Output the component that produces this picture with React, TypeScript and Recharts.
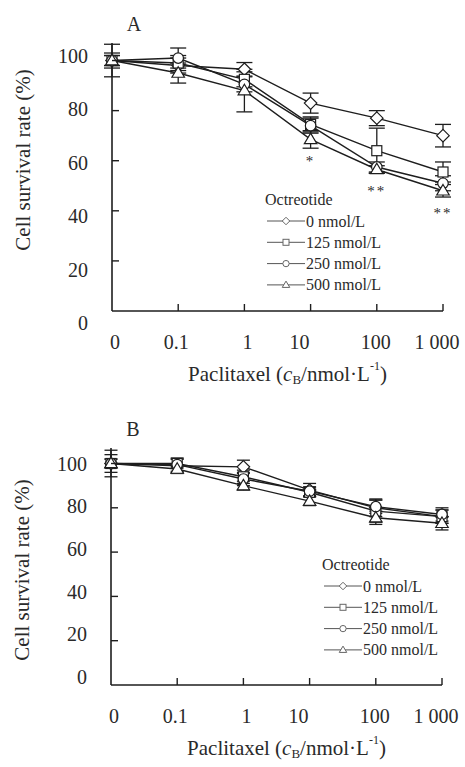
import React from 'react';
import { LineChart, Line, XAxis, YAxis, ErrorBar, Legend, LabelList } from 'recharts';

// ---------- data ----------
const doseLabels = ['0', '0.1', '1', '10', '100', '1 000'];
const yTicks = [0, 20, 40, 60, 80, 100];
const seriesNames = ['0 nmol/L', '125 nmol/L', '250 nmol/L', '500 nmol/L'];
const legendTitle = 'Octreotide';

// Panel A
const aOct0 = [100, 98, 96.5, 83, 77, 70];
const aOct0Err = [6.5, 3, 2.7, 4, 3, 4.5];
const aOct125 = [100, 99, 92.5, 74.5, 64, 55.5];
const aOct125Err = [2, 3, 3, 3, 9, 4];
const aOct250 = [100, 101, 90.5, 74, 57.5, 51];
const aOct250Err = [2, 4, 3, 3, 2, 3];
const aOct500 = [100, 95, 88, 68.5, 56.5, 48];
const aOct500Err = [3, 4, 8.5, 3.5, 1.5, 2.5];
const aSignif = ['', '', '', '*', '**', '**'];

// Panel B
const bOct0 = [100, 99, 98.5, 88, 80, 76];
const bOct0Err = [6, 3, 3, 3, 4, 3];
const bOct125 = [100, 100, 94, 87, 78.5, 76];
const bOct125Err = [2, 2, 3, 2, 5, 3];
const bOct250 = [100, 99.5, 93, 87.5, 80.5, 77];
const bOct250Err = [2, 3, 3, 2, 3, 3];
const bOct500 = [100, 97.5, 90, 83, 75.5, 73];
const bOct500Err = [4, 2, 2, 2, 3, 3];
const bSignif = ['', '', '', '', '', ''];

// ---------- styles ----------
const SERIF = '"Liberation Serif", "Times New Roman", "DejaVu Serif", serif';
const INK = '#1e1e1e';
const TEXT = '#2a2a2a';
const shapes = ['diamond', 'square', 'circle', 'triangle'];
const keys = ['s0', 's1', 's2', 's3'];
const xLabelNudge = [3, -2, 3, -11, -1, -6];

function buildRows(vals: number[][], errs: number[][], sig: string[]) {
  return doseLabels.map((_, i) => ({
    x: i,
    s0: vals[0][i], e0: errs[0][i],
    s1: vals[1][i], e1: errs[1][i],
    s2: vals[2][i], e2: errs[2][i],
    s3: vals[3][i], e3: errs[3][i],
    sig: sig[i],
  }));
}

const rowsA = buildRows([aOct0, aOct125, aOct250, aOct500], [aOct0Err, aOct125Err, aOct250Err, aOct500Err], aSignif);
const rowsB = buildRows([bOct0, bOct125, bOct250, bOct500], [bOct0Err, bOct125Err, bOct250Err, bOct500Err], bSignif);

function Marker({ cx, cy, shape, r, stroke = INK, sw = 1.2 }: any) {
  if (cx == null || cy == null || isNaN(cx) || isNaN(cy)) return null;
  const st = { fill: '#fff', stroke, strokeWidth: sw };
  if (shape === 'diamond') {
    const d = r * 1.25;
    return <polygon points={`${cx},${cy - d} ${cx + d},${cy} ${cx},${cy + d} ${cx - d},${cy}`} {...st} />;
  }
  if (shape === 'square') {
    return <rect x={cx - r} y={cy - r} width={2 * r} height={2 * r} {...st} />;
  }
  if (shape === 'circle') {
    return <circle cx={cx} cy={cy} r={r * 1.05} {...st} />;
  }
  const h = r * 2.1;
  const w = r * 1.25;
  return <polygon points={`${cx},${cy - h * 0.6} ${cx + w},${cy + h * 0.4} ${cx - w},${cy + h * 0.4}`} {...st} />;
}

const makeYTick = (shift: (v: number) => number) => (props: any) => {
  const { x, y, payload } = props;
  const axisX = x + 24;
  return (
    <g>
      {payload.value !== 0 && <line x1={axisX} x2={axisX + 7} y1={y} y2={y} stroke={INK} strokeWidth={1.4} />}
      <text x={x} y={y + shift(payload.value)} textAnchor="end" dominantBaseline="central"
        fontFamily={SERIF} fontSize={20} fill={TEXT}>{payload.value}</text>
    </g>
  );
};

const XTick = (props: any) => {
  const { x, y, payload } = props;
  const i = payload.value as number;
  return (
    <g>
      {i !== 0 && <line x1={x} x2={x} y1={y} y2={y - 7} stroke={INK} strokeWidth={1.4} />}
      <text x={x + xLabelNudge[i]} y={y + 31} textAnchor="middle" dominantBaseline="central"
        fontFamily={SERIF} fontSize={20} fill={TEXT}>{doseLabels[i]}</text>
    </g>
  );
};

const XTitle = (props: any) => {
  const vb = props.viewBox || {};
  const cx = vb.x + vb.width / 2 + 10;
  const cy = vb.y + 63;
  return (
    <text x={cx} y={cy} textAnchor="middle" dominantBaseline="central" fontFamily={SERIF} fontSize={21} fill={TEXT}>
      <tspan>Paclitaxel (</tspan>
      <tspan fontStyle="italic">c</tspan>
      <tspan fontSize={13} dy={5}>B</tspan>
      <tspan dy={-5}>/nmol·L</tspan>
      <tspan fontSize={12} dy={-8}>-1</tspan>
      <tspan dy={8}>)</tspan>
    </text>
  );
};

const makeYTitle = (letter: string, titleCy: number) => (props: any) => {
  const vb = props.viewBox || {};
  const cx = vb.x - 29;
  const axisX = vb.x + vb.width;
  return (
    <g>
      <text x={cx} y={titleCy} transform={`rotate(-90, ${cx}, ${titleCy})`} textAnchor="middle" dominantBaseline="central"
        fontFamily={SERIF} fontSize={21} fill={TEXT}>Cell survival rate (%)</text>
      <text x={axisX + 22} y={vb.y - 19} textAnchor="middle" dominantBaseline="central"
        fontFamily={SERIF} fontSize={20} fill={TEXT}>{letter}</text>
    </g>
  );
};

const SigLabel = (props: any) => {
  const { x, y, value } = props;
  if (!value) return null;
  return (
    <text x={x} y={y + 22} textAnchor="middle" dominantBaseline="central" fontFamily={SERIF} fontSize={15}
      letterSpacing={2} fill={TEXT}>{value}</text>
  );
};

const LegendBox = (props: any) => {
  const payload = (props.payload && props.payload.length ? props.payload : seriesNames.map((n) => ({ value: n })));
  return (
    <svg width={160} height={112} style={{ display: 'block', overflow: 'visible' }}>
      <text x={2} y={11} dominantBaseline="central" fontFamily={SERIF} fontSize={16} fill={TEXT}>{legendTitle}</text>
      {payload.map((p: any, i: number) => {
        const cy = 33 + i * 21.3;
        return (
          <g key={p.value}>
            <line x1={4} x2={42} y1={cy} y2={cy} stroke="#555" strokeWidth={1} />
            <Marker cx={23} cy={cy} r={3} shape={shapes[i]} stroke="#666" sw={1} />
            <text x={43} y={cy} dominantBaseline="central" fontFamily={SERIF} fontSize={16} fill={TEXT}>{p.value}</text>
          </g>
        );
      })}
    </svg>
  );
};

function Panel({ letter, rows, height, margin, legendLeft, legendTop, titleCy, shift, errW }: any) {
  return (
    <LineChart width={465} height={height} data={rows} margin={margin}>
      <XAxis dataKey="x" type="number" domain={[0, 5]} ticks={[0, 1, 2, 3, 4, 5]} tickSize={0} tickMargin={0}
        tick={XTick} tickLine={false} axisLine={{ stroke: INK, strokeWidth: 1.6 }} height={30} label={XTitle} />
      <YAxis type="number" domain={[0, 107]} ticks={yTicks} tickSize={0} tickMargin={24} tickLine={false}
        tick={makeYTick(shift)} width={60} axisLine={{ stroke: INK, strokeWidth: 1.6 }}
        label={makeYTitle(letter, titleCy)} allowDataOverflow />
      <Legend layout="vertical" align="center" verticalAlign="middle" content={LegendBox}
        wrapperStyle={{ position: 'absolute', left: legendLeft, top: legendTop, width: 160, height: 112 }} />
      {keys.map((k, i) => (
        <Line key={k} dataKey={k} name={seriesNames[i]} isAnimationActive={false} stroke={INK} strokeWidth={1.4}
          activeDot={false} legendType="none"
          dot={(p: any) => <Marker key={`${k}-${p.index}`} cx={p.cx} cy={p.cy} r={5} shape={shapes[i]} />}>
          <ErrorBar dataKey={`e${i}`} width={errW} stroke={INK} strokeWidth={1.3} direction="y" />
          {i === 3 && <LabelList dataKey="sig" content={SigLabel} />}
        </Line>
      ))}
    </LineChart>
  );
}

export default function App() {
  return (
    <div style={{ position: 'absolute', left: 0, top: 0, width: 465, height: 767, background: '#fff', overflow: 'hidden' }}>
      <div style={{ position: 'absolute', left: 0, top: 0 }}>
        <Panel letter="A" rows={rowsA} height={396}
          margin={{ top: 43, right: 22, bottom: 55, left: 52 }}
          legendLeft={263} legendTop={188} titleCy={160}
          shift={(v: number) => -5 + (100 - v) * 0.17} errW={8} />
      </div>
      <div style={{ position: 'absolute', left: 0, top: 400 }}>
        <Panel letter="B" rows={rowsB} height={367}
          margin={{ top: 48, right: 23, bottom: 52, left: 51 }}
          legendLeft={320} legendTop={153} titleCy={170}
          shift={(v: number) => -(100 - v) * 0.08} errW={6.5} />
      </div>
    </div>
  );
}
